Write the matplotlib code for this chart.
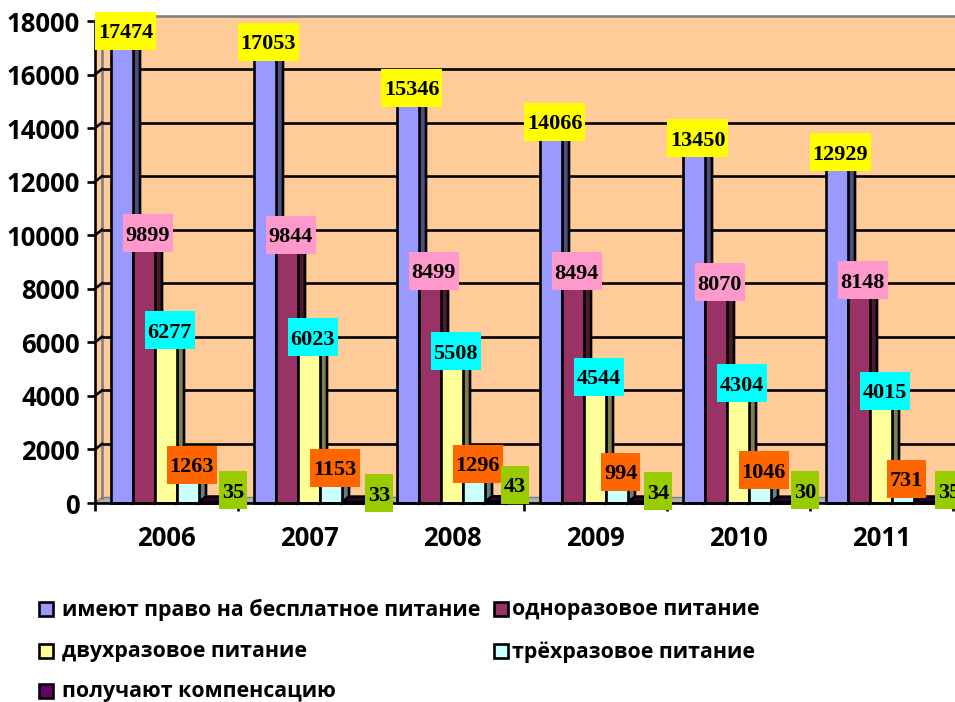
import matplotlib
matplotlib.use("Agg")
import matplotlib.pyplot as plt
from matplotlib.patches import Polygon, Rectangle

plt.rcParams["font.family"] = ["Open Sans", "DejaVu Sans"]

years = ["2006", "2007", "2008", "2009", "2010", "2011"]
free_meals = [17474, 17053, 15346, 14066, 13450, 12929]
one_meal = [9899, 9844, 8499, 8494, 8070, 8148]
two_meals = [6277, 6023, 5508, 4544, 4304, 4015]
three_meals = [1263, 1153, 1296, 994, 1046, 731]
compensation = [35, 33, 43, 34, 30, 35]
y_ticks = list(range(0, 18001, 2000))

series = [free_meals, one_meal, two_meals, three_meals, compensation]
names = ["имеют право на бесплатное питание", "одноразовое питание",
         "двухразовое питание", "трёхразовое питание", "получают компенсацию"]
front = ["#9999FF", "#993366", "#FFFF99", "#CCFFFF", "#660066"]
side = ["#4D4D80", "#4D1A33", "#80804D", "#668080", "#330033"]
label_bg = ["#FFFF00", "#FF99CC", "#00FFFF", "#FF6600", "#99CC00"]

# pixel geometry of the picture
W, H = 955, 702
CAT_PX = 143
BAR_PX = 22
PX = 1 / CAT_PX                # one pixel in x data units
PY = 18000 / 482               # one pixel in y data units
DX, DY = 7 * PX, 5.5 * PY      # depth of the 3d effect
LW = 1.9

# the small green labels were pushed around by hand in the original
last_dx = [23, 26, 19, 19, 23, 24]
last_dy = [12, 9, 17, 11, 12, 12]

fig = plt.figure(figsize=(W / 100, H / 100), dpi=100)
ax = fig.add_axes([95 / W, 1 - 503 / H, 858 / W, 482 / H])
ax.set_xlim(0, 6)
ax.set_ylim(0, 18000)
ax.patch.set_visible(False)

# walls and floor
right = 860 * PX
ax.add_patch(Polygon([(0, 0), (DX, DY), (DX, 18000 + DY), (0, 18000)], closed=True,
                     fc="#FFCC99", ec="none", clip_on=False, zorder=1))
ax.add_patch(Polygon([(DX, DY), (right, DY), (right, 18000 + DY), (DX, 18000 + DY)], closed=True,
                     fc="#FFCC99", ec="none", clip_on=False, zorder=1))
ax.add_patch(Polygon([(0, 0), (DX, DY), (right, DY), (6, 0)], closed=True,
                     fc="#B0B0B0", ec="#808080", lw=1, clip_on=False, zorder=1.5))
ax.plot([DX, DX], [DY, 18000 + DY], color="#808080", lw=LW, clip_on=False, zorder=2)

for v in y_ticks[1:]:
    c = "#808080" if v == 18000 else "black"
    ax.plot([DX, right], [v + DY, v + DY], color=c, lw=LW, clip_on=False, zorder=2,
            solid_capstyle="butt")
    ax.plot([0, DX], [v, v + DY], color=c, lw=LW, clip_on=False, zorder=2)

# bars: later bars sit on top so their fronts hide the neighbour's side face
n = len(series)
for i in range(len(years)):
    for k in range(n):
        x0 = i + (16 + k * BAR_PX) * PX
        x1 = x0 + BAR_PX * PX
        h = series[k][i]
        z = 3 + i * 0.1 + k * 0.01
        ax.add_patch(Polygon([(x1, 0), (x1 + DX, DY), (x1 + DX, h + DY), (x1, h)], closed=True,
                             fc=side[k], ec="black", lw=LW, zorder=z, clip_on=False))
        ax.add_patch(Polygon([(x0, h), (x0 + DX, h + DY), (x1 + DX, h + DY), (x1, h)], closed=True,
                             fc=side[k], ec="black", lw=LW, zorder=z, clip_on=False))
        ax.bar(x0, h, width=BAR_PX * PX, align="edge", color=front[k], edgecolor="black",
               linewidth=LW, zorder=z, clip_on=False)

# value labels
for i in range(len(years)):
    for k in range(n):
        v = series[k][i]
        xc = i + (16 + k * BAR_PX + BAR_PX / 2) * PX
        if k == n - 1:
            xl, yl = xc + last_dx[i] * PX, v + last_dy[i] * PY
        else:
            xl, yl = xc + 3.5 * PX, v + 4.5 * PY
        txt = str(v)
        w = (len(txt) * 11 + 6) * PX
        hh = 38 * PY
        ax.add_patch(Rectangle((xl - w / 2, yl - hh / 2), w, hh, fc=label_bg[k], ec="none",
                               zorder=10, clip_on=False))
        ax.text(xl, yl, txt, ha="center", va="center_baseline", fontsize=16, fontweight="bold",
                family="Liberation Serif", color="black", zorder=11, clip_on=False)

# axes
for s in ("top", "right"):
    ax.spines[s].set_visible(False)
for s in ("left", "bottom"):
    ax.spines[s].set_linewidth(LW)
    ax.spines[s].set_zorder(9)
ax.set_yticks(y_ticks)
ax.set_xticks(range(7))
ax.set_xticklabels([])
ax.tick_params(axis="both", length=6, width=LW)
ax.tick_params(axis="y", labelsize=18.5, pad=5)
for t in ax.get_yticklabels():
    t.set_fontweight("bold")
for i, y in enumerate(years):
    ax.text(i + 0.5, -1330, y, ha="center", va="center", fontsize=18.5, fontweight="bold")

# legend, laid out by hand to keep the uneven columns
rows = [(39, 609, 0), (494, 609, 1), (39, 651, 2), (494, 651, 3), (39, 691, 4)]
for px, py, k in rows:
    fig.add_artist(Rectangle((px / W, 1 - (py + 7) / H), 14 / W, 14 / H, fc=front[k], ec="black",
                             lw=LW, transform=fig.transFigure))
    fig.text((px + (23 if px < 100 else 18)) / W, 1 - (py + 1) / H, names[k], ha="left", va="center",
             fontsize=15.4, fontweight="bold")

fig.savefig("out.png", dpi=100)
